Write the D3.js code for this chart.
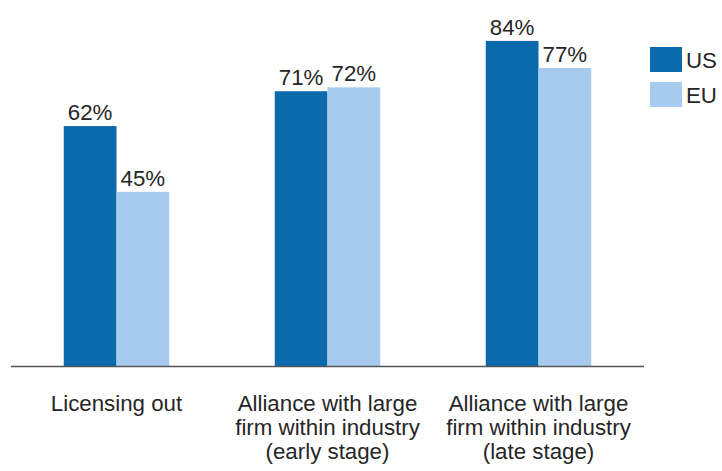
<!DOCTYPE html>
<html><head><meta charset="utf-8">
<script src="https://cdn.jsdelivr.net/npm/d3@7"></script>
<style>body{margin:0;background:#fff}svg{display:block}text{font-family:"Liberation Sans",Arial,sans-serif;fill:#262626}</style>
</head><body><svg id="c" width="722" height="471"></svg>
<script>
const categories = [
  ["Licensing out"],
  ["Alliance with large", "firm within industry", "(early stage)"],
  ["Alliance with large", "firm within industry", "(late stage)"]
];
const series = ["US", "EU"];
const usValues = [62, 71, 84];
const euValues = [45, 72, 77];
const colors = {US: "#0a6aab", EU: "#a6cbee"};

const svg = d3.select("#c");
const baseY = 366, left = 11, right = 644;
const fs = 22.3;
const y = d3.scaleLinear().domain([0, 100]).range([baseY, baseY - 387]);
const x0 = d3.scaleBand().domain(d3.range(categories.length)).range([left, right]).paddingInner(0.5).paddingOuter(0.25);
const x1 = d3.scaleBand().domain(series).range([0, x0.bandwidth()]);

const data = categories.map((c, i) => ({i, vals: [{k: "US", v: usValues[i]}, {k: "EU", v: euValues[i]}]}));

const g = svg.selectAll("g.grp").data(data).enter().append("g")
  .attr("transform", d => `translate(${x0(d.i)},0)`);
g.selectAll("rect").data(d => d.vals).enter().append("rect")
  .attr("x", d => x1(d.k)).attr("width", x1.bandwidth())
  .attr("y", d => y(d.v)).attr("height", d => baseY - y(d.v))
  .attr("fill", d => colors[d.k]);
g.selectAll("text.v").data(d => d.vals).enter().append("text")
  .attr("x", d => x1(d.k) + x1.bandwidth() / 2).attr("y", d => y(d.v) - 6)
  .attr("text-anchor", "middle").attr("font-size", fs).text(d => d.v + "%");

svg.append("line").attr("x1", left).attr("x2", right).attr("y1", baseY + 0.5).attr("y2", baseY + 0.5)
  .attr("stroke", "#555").attr("stroke-width", 1.5);

categories.forEach((lines, i) => {
  const cx = x0(i) + x0.bandwidth() / 2;
  const t = svg.append("text").attr("text-anchor", "middle").attr("font-size", fs)
    .attr("x", cx).attr("y", 411);
  lines.forEach((l, j) => t.append("tspan").attr("x", cx).attr("dy", j ? 24 : 0).text(l));
});

const lg = svg.selectAll("g.lg").data(series).enter().append("g").attr("transform", (d, i) => `translate(650,${47 + i * 35})`);
lg.append("rect").attr("width", 32).attr("height", 25).attr("fill", d => colors[d]);
lg.append("text").attr("x", 36).attr("y", 21).attr("font-size", fs).text(d => d);
</script></body></html>
